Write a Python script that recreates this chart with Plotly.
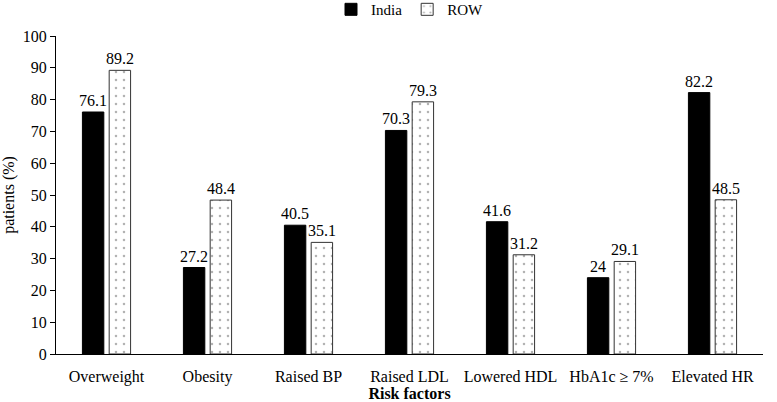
import plotly.graph_objects as go

categories = ["Overweight", "Obesity", "Raised BP", "Raised LDL", "Lowered HDL", "HbA1c \u2265 7%", "Elevated HR"]
india = [76.1, 27.2, 40.5, 70.3, 41.6, 24, 82.2]
row = [89.2, 48.4, 35.1, 79.3, 31.2, 29.1, 48.5]
yticks = list(range(0, 101, 10))

FAM = "Liberation Serif"
font = dict(family=FAM, size=16, color="black")

fig = go.Figure()
fig.add_trace(go.Bar(
    name="India", x=categories, y=india,
    marker=dict(color="black", line=dict(color="black", width=1)),
    text=[str(v) for v in india], textposition="outside", cliponaxis=False,
    constraintext="none", textfont=font,
))
fig.add_trace(go.Bar(
    name="ROW", x=categories, y=row,
    marker=dict(color="white", line=dict(color="#333333", width=1),
                pattern=dict(shape=".", fgcolor="#666666", bgcolor="white", size=8, solidity=0.08)),
    text=[str(v) for v in row], textposition="outside", cliponaxis=False,
    constraintext="none", textfont=font,
))

fig.update_layout(
    width=777, height=402,
    margin=dict(l=56, r=14, t=36, b=48, autoexpand=False),
    paper_bgcolor="white", plot_bgcolor="white",
    font=font,
    barmode="group", bargap=0.47, bargroupgap=0.2,
    showlegend=True,
    legend=dict(orientation="h", x=0.5, xanchor="center", y=1.135, yanchor="top",
                font=dict(family=FAM, size=15, color="black"),
                itemwidth=30, traceorder="normal"),
    xaxis=dict(showline=True, linecolor="black", linewidth=1, ticks="", tickfont=font,
               ticklabelstandoff=8,
               title=dict(text="<b>Risk factors</b>", font=font, standoff=4)),
    yaxis=dict(range=[0, 100], tickvals=yticks, showline=True, linecolor="black", linewidth=1,
               ticks="outside", ticklen=5, tickcolor="black", showgrid=False, zeroline=False,
               tickfont=font, title=dict(text="patients (%)", font=font, standoff=6)),
)

fig.write_html("out.html", config={"displayModeBar": False},
               post_script="document.body.style.margin='0';document.body.style.padding='0';")
